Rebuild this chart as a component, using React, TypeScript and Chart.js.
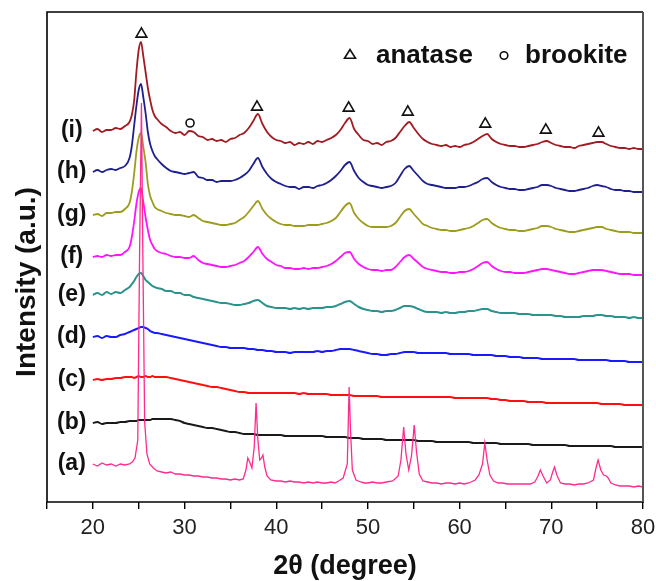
import React, { useEffect, useRef } from 'react';
import { Chart, registerables } from 'chart.js';

Chart.register(...registerables);

// 2θ grid shared by series (b)–(i)
const twoTheta = [
  20, 20.5, 21, 21.5, 22, 22.5, 23, 23.5, 24,
  24.25, 24.5, 24.75, 25, 25.25, 25.5, 25.75, 26, 26.25, 26.5, 26.75, 27,
  27.5, 28, 28.5, 29, 29.5, 30, 30.5, 31, 31.5, 32, 32.5, 33, 33.5, 34, 34.5, 35, 35.5, 36, 36.5, 37,
  37.5, 38, 38.5, 39, 39.5, 40, 40.5, 41, 41.5, 42, 42.5, 43, 43.5, 44, 44.5, 45, 45.5, 46, 46.5, 47,
  47.5, 48, 48.5, 49, 49.5, 50, 50.5, 51, 51.5, 52, 52.5, 53, 53.5, 54, 54.5, 55, 55.5, 56, 56.5, 57,
  57.5, 58, 58.5, 59, 59.5, 60, 60.5, 61, 61.5, 62, 62.5, 63, 63.5, 64, 64.5, 65, 65.5, 66, 66.5, 67,
  67.5, 68, 68.5, 69, 69.5, 70, 70.5, 71, 71.5, 72, 72.5, 73, 73.5, 74, 74.5, 75, 75.5, 76, 76.5, 77,
  77.5, 78, 78.5, 79, 79.5, 80,
];

const seriesI = [
  371, 373, 370, 372, 372, 374, 373, 376, 380,
  387, 401, 430, 452, 460, 446, 430, 414, 402, 392, 386, 383,
  378, 375, 371, 369, 370, 367, 371, 370, 366, 365, 362, 363, 361, 362, 360, 363, 364, 367, 369, 374,
  381, 388, 378, 370, 365, 362, 361, 359, 360, 357, 359, 358, 360, 358, 361, 360, 362, 364, 367, 372,
  379, 384, 373, 367, 362, 361, 358, 359, 357, 360, 361, 364, 370, 376, 380, 374, 368, 363, 360, 358,
  357, 356, 357, 355, 356, 355, 357, 358, 360, 363, 366, 368, 363, 360, 358, 357, 356, 356, 355, 355,
  356, 357, 358, 360, 361, 359, 357, 356, 355, 355, 354, 356, 357, 358, 359, 360, 360, 358, 356, 355,
  354, 354, 353, 354, 353, 353,
];

const seriesH = [
  330, 332, 330, 332, 333, 332, 334, 336, 344,
  356, 376, 396, 412, 418, 405, 389, 370, 358, 351, 346, 343,
  338, 334, 331, 330, 329, 328, 329, 330, 325, 324, 322, 322, 320, 321, 321, 321, 322, 324, 327, 331,
  338, 344, 335, 328, 323, 320, 318, 316, 315, 315, 313, 315, 315, 314, 316, 317, 319, 322, 326, 331,
  337, 340, 331, 324, 320, 317, 316, 315, 314, 315, 316, 319, 326, 333, 336, 331, 326, 321, 318, 317,
  316, 315, 314, 314, 314, 315, 315, 316, 318, 320, 323, 324, 320, 317, 315, 314, 313, 313, 312, 312,
  313, 314, 315, 317, 317, 316, 314, 313, 312, 311, 311, 312, 313, 314, 316, 317, 316, 315, 313, 312,
  312, 311, 311, 310, 310, 310,
];

const seriesG = [
  287, 288, 286, 289, 289, 290, 290, 293, 299,
  310, 328, 350, 364, 369, 355, 340, 318, 306, 300, 295, 293,
  291, 289, 288, 287, 287, 286, 285, 287, 284, 281, 280, 279, 278, 277, 277, 278, 279, 282, 285, 290,
  296, 301, 293, 287, 283, 280, 278, 277, 277, 276, 276, 276, 277, 277, 277, 278, 279, 281, 284, 290,
  296, 299, 289, 283, 279, 276, 275, 275, 275, 275, 276, 279, 285, 291, 293, 288, 283, 278, 276, 274,
  273, 272, 272, 271, 271, 272, 273, 274, 276, 279, 282, 283, 279, 276, 274, 273, 272, 272, 271, 271,
  272, 273, 274, 276, 276, 275, 273, 272, 271, 270, 270, 271, 272, 273, 274, 275, 275, 273, 272, 271,
  270, 270, 270, 269, 269, 269,
];

const seriesF = [
  245, 246, 245, 247, 246, 247, 247, 250, 255,
  265, 280, 298, 310, 314, 300, 285, 272, 262, 257, 253, 251,
  249, 248, 246, 245, 245, 244, 244, 246, 242, 239, 238, 237, 236, 235, 235, 236, 237, 239, 241, 245,
  250, 255, 248, 243, 240, 237, 236, 234, 234, 233, 233, 234, 233, 234, 234, 235, 236, 238, 241, 245,
  249, 250, 243, 238, 235, 233, 232, 232, 231, 232, 232, 235, 240, 245, 247, 243, 239, 235, 233, 232,
  231, 230, 230, 229, 229, 230, 230, 231, 233, 236, 239, 240, 236, 233, 231, 230, 230, 229, 229, 229,
  230, 231, 232, 233, 233, 232, 231, 230, 229, 228, 228, 229, 230, 231, 232, 232, 232, 231, 230, 229,
  228, 228, 228, 227, 227, 227,
];

const seriesE = [
  207, 209, 207, 210, 208, 210, 209, 212, 215,
  218, 221, 225, 228, 229, 226, 222, 220, 218, 216, 215, 214,
  213, 211, 211, 209, 209, 207, 207, 205, 204, 203, 202, 201, 200, 199, 199, 198, 197, 197, 198, 199,
  201, 202, 199, 196, 195, 194, 194, 194, 193, 194, 193, 194, 193, 194, 194, 194, 195, 195, 196, 198,
  200, 201, 198, 195, 193, 192, 191, 191, 190, 191, 191, 192, 194, 196, 196, 195, 193, 191, 190, 190,
  190, 189, 190, 189, 189, 190, 190, 191, 191, 192, 193, 193, 191, 190, 189, 189, 189, 189, 188, 188,
  188, 187, 187, 187, 187, 187, 186, 186, 185, 185, 185, 185, 186, 186, 186, 187, 187, 186, 186, 185,
  185, 185, 184, 185, 184, 184,
];

const seriesD = [
  165, 166, 164, 166, 165, 165, 167, 168, 170,
  171, 172, 173, 174, 175, 175, 174, 173, 171, 170, 169, 169,
  168, 167, 166, 165, 164, 163, 162, 161, 160, 159, 158, 157, 156, 155, 155, 154, 154, 154, 154, 153,
  153, 152, 152, 151, 151, 150, 150, 150, 149, 150, 150, 150, 150, 150, 151, 150, 151, 151, 152, 153,
  153, 153, 152, 151, 150, 149, 148, 148, 147, 147, 148, 148, 149, 150, 150, 150, 149, 149, 149, 149,
  149, 149, 149, 148, 148, 148, 148, 148, 147, 147, 147, 147, 147, 146, 146, 146, 145, 145, 145, 144,
  144, 144, 144, 143, 143, 143, 143, 143, 143, 143, 143, 142, 142, 142, 142, 142, 142, 142, 141, 141,
  141, 141, 140, 140, 140, 140,
];

const seriesC = [
  122, 123, 122, 123, 123, 124, 124, 125, 125,
  125, 124, 125, 126, 125, 125, 126, 125, 125, 126, 125, 125,
  125, 125, 124, 123, 122, 121, 120, 119, 118, 117, 116, 115, 115, 114, 113, 112, 111, 110, 110, 109,
  109, 109, 109, 109, 109, 109, 109, 109, 109, 109, 108, 109, 108, 108, 108, 108, 108, 107, 107, 107,
  107, 107, 106, 106, 106, 106, 106, 106, 105, 105, 105, 105, 105, 105, 105, 105, 105, 105, 105, 105,
  105, 105, 105, 105, 104, 104, 104, 104, 104, 104, 104, 104, 103, 103, 102, 102, 101, 101, 101, 101,
  100, 100, 100, 100, 99, 99, 99, 99, 99, 99, 99, 99, 99, 99, 99, 99, 98, 98, 98, 98,
  98, 97, 97, 97, 97, 97,
];

const seriesB = [
  79, 80, 78, 79, 79, 79, 80, 80, 81,
  81, 81, 81, 82, 82, 82, 82, 82, 82, 83, 83, 83,
  83, 83, 83, 82, 81, 79, 78, 77, 76, 75, 74, 74, 73, 72, 71, 70, 70, 69, 68, 68,
  68, 67, 67, 67, 67, 67, 67, 66, 66, 66, 66, 66, 66, 66, 66, 66, 65, 65, 65, 65,
  65, 64, 64, 64, 63, 63, 63, 63, 63, 62, 62, 62, 62, 62, 62, 62, 61, 61, 61, 61,
  60, 60, 60, 60, 60, 60, 60, 60, 59, 59, 59, 59, 59, 59, 58, 58, 58, 58, 58, 58,
  58, 57, 57, 57, 57, 57, 57, 57, 57, 56, 56, 56, 56, 56, 56, 56, 56, 56, 56, 55,
  55, 55, 55, 55, 55, 55,
];

// finer grid for the crystalline reference (a)
const twoThetaA = [
  20, 20.5, 21, 21.5, 22, 22.5, 23, 23.5, 24, 24.3, 24.6, 24.9, 25.1, 25.3, 25.45, 25.65, 25.9, 26.2, 26.6, 27,
  27.5, 28, 28.5, 29, 29.5, 30, 30.5, 31, 31.5, 32, 32.5, 33, 33.5, 34, 34.5, 35, 35.5, 36, 36.4, 36.7,
  36.9, 37.1, 37.35, 37.6, 37.8, 38.0, 38.2, 38.4, 38.55, 38.75, 39.0, 39.4, 40, 40.5, 41, 41.5, 42, 42.5, 43, 43.5,
  44, 44.5, 45, 45.5, 46, 46.4, 46.8, 47.3, 47.75, 47.95, 48.1, 48.3, 48.7, 49.2, 49.6, 50, 50.5, 51, 51.5, 52,
  52.7, 53.3, 53.6, 53.9, 54.15, 54.45, 54.75, 55.05, 55.3, 55.6, 56, 56.5, 57, 57.5, 58, 58.5, 59, 59.5, 60, 60.5,
  61, 61.7, 62.1, 62.5, 62.75, 63.0, 63.3, 63.7, 64.2, 64.7, 65.2, 65.7, 66.2, 66.7, 67.2, 67.7, 68.2, 68.55, 68.8, 69.1,
  69.5, 69.9, 70.15, 70.35, 70.6, 71.0, 71.5, 72, 72.5, 73, 73.5, 74, 74.6, 74.9, 75.1, 75.4, 75.7, 76.0, 76.2, 76.5,
  77, 77.5, 78, 78.5, 79, 79.5, 80,
];

const seriesA = [
  38, 36, 39, 37, 38, 36, 38, 37, 38, 40, 44, 62, 250, 399, 250, 80, 48, 38, 34, 31,
  30, 29, 30, 28, 28, 27, 27, 26, 26, 25, 25, 24, 24, 23, 23, 22, 23, 22, 23, 32,
  44, 40, 34, 55, 99, 62, 42, 44, 47, 35, 26, 22, 21, 21, 20, 21, 20, 20, 19, 20,
  19, 20, 19, 19, 20, 19, 21, 24, 38, 115, 72, 32, 22, 20, 19, 19, 20, 19, 19, 20,
  21, 26, 42, 75, 48, 32, 46, 77, 50, 28, 21, 20, 19, 19, 18, 19, 19, 18, 19, 18,
  19, 22, 27, 38, 59, 42, 27, 21, 19, 19, 18, 18, 18, 18, 18, 18, 20, 26, 32, 26,
  19, 22, 30, 35, 27, 19, 18, 18, 17, 18, 18, 19, 22, 35, 42, 32, 27, 26, 24, 19,
  17, 16, 16, 16, 15, 16, 15,
];

const seriesLabels = ['(a)', '(b)', '(c)', '(d)', '(e)', '(f)', '(g)', '(h)', '(i)'];
const labelTheta = 17.7;

const anataseTheta = [25.3, 37.9, 47.9, 54.35, 62.8, 69.4, 75.15];
const anataseMarkY = [468, 395, 394, 390, 378, 372, 369];
const brookiteTheta = [30.6];
const brookiteMarkY = [379];

const xTicksMin = 15;
const xTicksMax = 80;

const FONT = '"Liberation Sans", Arial, Helvetica, sans-serif';

export default function App() {
  const ref = useRef<HTMLCanvasElement>(null);

  useEffect(() => {
    document.body.style.margin = '0';
    const canvas = ref.current;
    if (!canvas) return;

    const pts = (xs: number[], ys: number[]) => xs.map((x, i) => ({ x, y: ys[i] }));

    const defs = [
      { xs: twoThetaA, ys: seriesA, color: '#ff2a8e', w: 1.3, smooth: false },
      { xs: twoTheta, ys: seriesB, color: '#1a1a1a', w: 2, smooth: true },
      { xs: twoTheta, ys: seriesC, color: '#ff1010', w: 2, smooth: true },
      { xs: twoTheta, ys: seriesD, color: '#1a1aff', w: 2, smooth: true },
      { xs: twoTheta, ys: seriesE, color: '#2a938b', w: 2, smooth: true },
      { xs: twoTheta, ys: seriesF, color: '#ff14ff', w: 1.8, smooth: true },
      { xs: twoTheta, ys: seriesG, color: '#9c9c1e', w: 1.8, smooth: true },
      { xs: twoTheta, ys: seriesH, color: '#1f1f8e', w: 1.8, smooth: true },
      { xs: twoTheta, ys: seriesI, color: '#a11c22', w: 1.8, smooth: true },
    ];

    const datasets: any[] = defs.map((d, i) => ({
      type: 'line',
      label: seriesLabels[i],
      data: pts(d.xs, d.ys),
      borderColor: d.color,
      borderWidth: d.w,
      pointRadius: 0,
      fill: false,
      tension: 0,
      cubicInterpolationMode: d.smooth ? 'monotone' : 'default',
    }));

    datasets.push({
      type: 'scatter',
      label: 'anatase',
      data: pts(anataseTheta, anataseMarkY),
      pointStyle: 'triangle',
      pointRadius: 6.2,
      borderColor: '#111',
      backgroundColor: 'rgba(255,255,255,0)',
      borderWidth: 1.6,
      showLine: false,
    });
    datasets.push({
      type: 'scatter',
      label: 'brookite',
      data: pts(brookiteTheta, brookiteMarkY),
      pointStyle: 'circle',
      pointRadius: 4,
      borderColor: '#111',
      backgroundColor: 'rgba(255,255,255,0)',
      borderWidth: 1.6,
      showLine: false,
    });

    const decor = {
      id: 'decor',
      afterDraw(chart: any) {
        const { ctx, chartArea, scales } = chart;
        const { left, top, right, bottom } = chartArea;
        const x = scales.x;
        const y = scales.y;
        ctx.save();
        // frame
        ctx.strokeStyle = '#000';
        ctx.lineWidth = 1.6;
        ctx.beginPath();
        ctx.moveTo(left, bottom);
        ctx.lineTo(left, top);
        ctx.lineTo(right, top);
        ctx.stroke();
        ctx.beginPath();
        ctx.moveTo(left, bottom);
        ctx.lineTo(right + 1, bottom);
        ctx.stroke();
        ctx.strokeStyle = '#555';
        ctx.lineWidth = 2;
        ctx.beginPath();
        ctx.moveTo(right, top);
        ctx.lineTo(right, bottom);
        ctx.stroke();

        // series labels
        ctx.fillStyle = '#111';
        ctx.font = `bold 23px ${FONT}`;
        ctx.textAlign = 'center';
        ctx.textBaseline = 'middle';
        defs.forEach((d, i) => {
          ctx.fillText(seriesLabels[i], x.getPixelForValue(labelTheta), y.getPixelForValue(d.ys[0]));
        });

        // legend
        ctx.strokeStyle = '#111';
        ctx.lineWidth = 1.6;
        ctx.beginPath();
        ctx.moveTo(350, 49.5);
        ctx.lineTo(344.5, 58.3);
        ctx.lineTo(355.5, 58.3);
        ctx.closePath();
        ctx.stroke();
        ctx.beginPath();
        ctx.arc(504, 55.5, 3.8, 0, Math.PI * 2);
        ctx.stroke();
        ctx.font = `bold 26px ${FONT}`;
        ctx.textAlign = 'left';
        ctx.textBaseline = 'alphabetic';
        ctx.fillText('anatase', 376, 63);
        ctx.fillText('brookite', 525, 63);

        // axis titles
        ctx.font = `bold 27px ${FONT}`;
        ctx.textAlign = 'center';
        ctx.fillText('2θ (degree)', (left + right) / 2, 574);
        ctx.save();
        ctx.translate(35, 282);
        ctx.rotate(-Math.PI / 2);
        ctx.font = `bold 28px ${FONT}`;
        ctx.fillText('Intensity (a.u.)', 0, 0);
        ctx.restore();
        ctx.restore();
      },
    };

    const chart = new Chart(canvas, {
      type: 'line',
      data: { datasets },
      options: {
        animation: false,
        responsive: false,
        devicePixelRatio: 1,
        layout: { padding: { left: 47, right: 13, top: 12, bottom: 0 } },
        plugins: { legend: { display: false }, tooltip: { enabled: false }, title: { display: false } },
        scales: {
          x: {
            type: 'linear',
            min: xTicksMin,
            max: xTicksMax,
            afterFit: (s: any) => {
              s.height = 79;
              s.paddingLeft = 0;
              s.paddingRight = 0;
            },
            border: { display: false },
            grid: {
              display: true,
              drawOnChartArea: false,
              drawTicks: true,
              tickLength: 7,
              color: '#000',
              lineWidth: 1.4,
            },
            ticks: {
              stepSize: 5,
              autoSkip: false,
              maxRotation: 0,
              padding: 6,
              color: '#222',
              font: { family: FONT, size: 22 },
              callback: (v: any) => (Number(v) % 10 === 0 ? String(v) : ''),
            },
          },
          y: {
            display: false,
            min: 0,
            max: 490,
          },
        },
      },
      plugins: [decor],
    } as any);

    return () => chart.destroy();
  }, []);

  return (
    <div style={{ width: 656, height: 581 }}>
      <canvas ref={ref} width={656} height={581} style={{ display: 'block' }} />
    </div>
  );
}
